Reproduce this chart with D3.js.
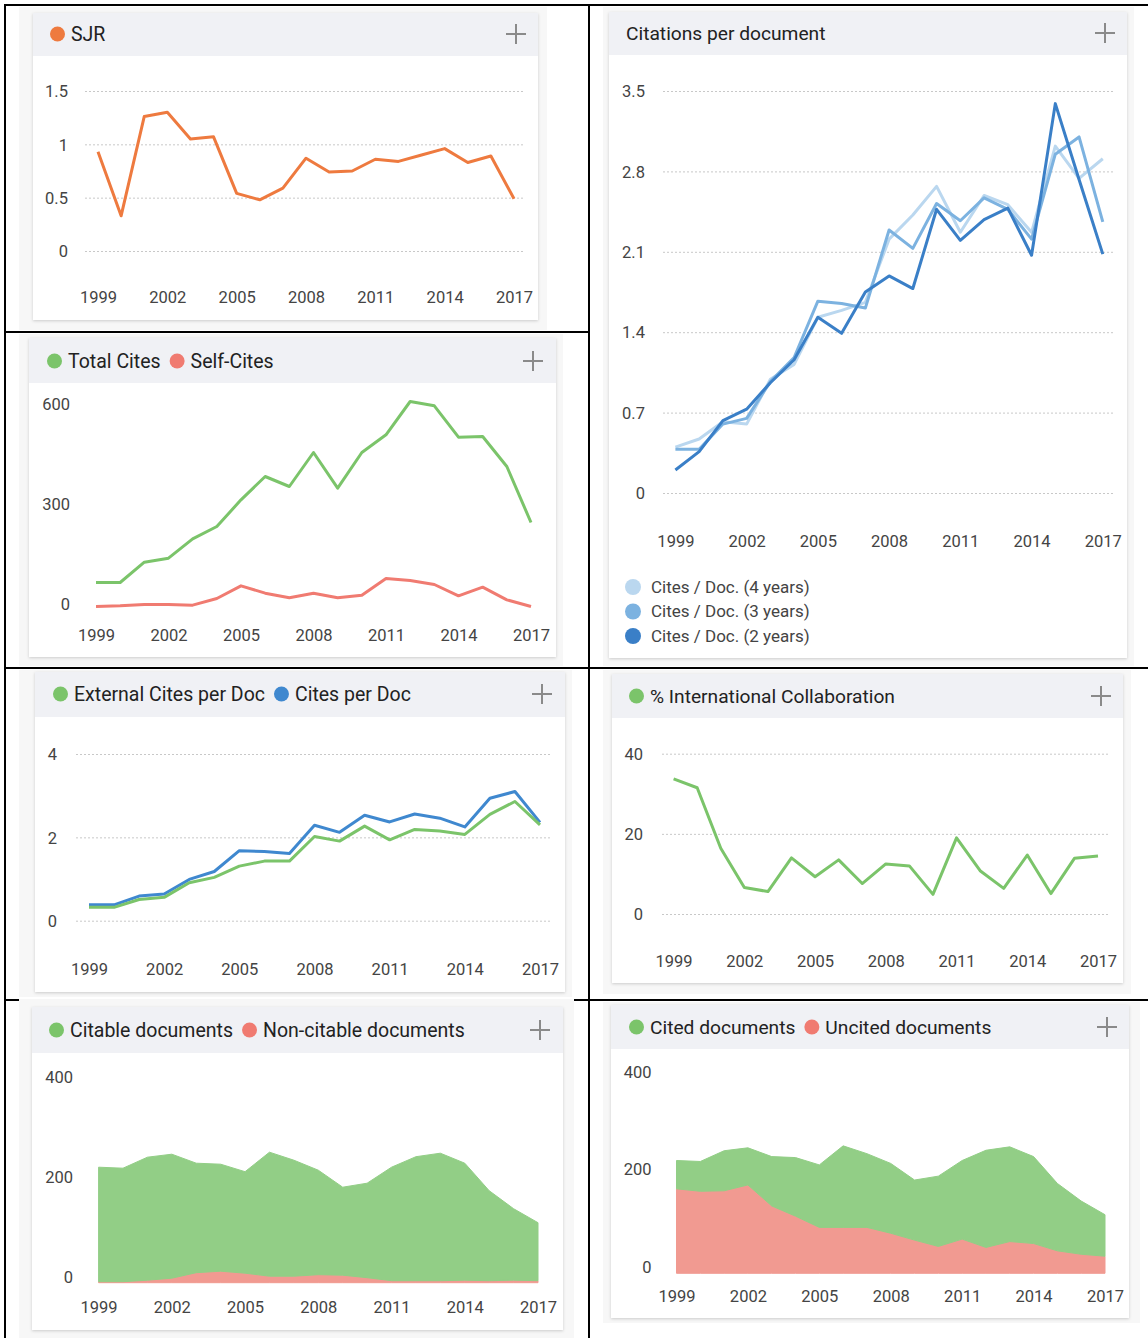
<!DOCTYPE html>
<html>
<head>
<meta charset="utf-8">
<script src="https://cdn.jsdelivr.net/npm/d3@7"></script>
<style>
  body { margin: 0; background: #fff; }
  svg { display: block; font-family: Roboto, 'Noto Sans', sans-serif; }
</style>
</head>
<body>
<div id="chart"></div>
<script>
const years = [1999, 2000, 2001, 2002, 2003, 2004, 2005, 2006, 2007, 2008, 2009, 2010, 2011, 2012, 2013, 2014, 2015, 2016, 2017];
const yearTicks = [1999, 2002, 2005, 2008, 2011, 2014, 2017];

const sjr = [0.93, 0.33, 1.26, 1.3, 1.05, 1.07, 0.54, 0.48, 0.59, 0.87, 0.74, 0.75, 0.86, 0.84, 0.9, 0.96, 0.83, 0.89, 0.49];
const sjrTicks = [0, 0.5, 1, 1.5];

const totalCites = [72, 72, 133, 145, 203, 240, 320, 390, 360, 462, 355, 462, 515, 615, 602, 508, 510, 420, 252];
const selfCites = [0, 2, 6, 6, 4, 24, 62, 40, 26, 40, 26, 34, 84, 78, 66, 32, 58, 20, 0];
const citesTicks = [0, 300, 600];

const citesDoc4 = [0.4, 0.47, 0.62, 0.6, 0.99, 1.12, 1.53, 1.59, 1.66, 2.21, 2.42, 2.67, 2.27, 2.59, 2.51, 2.27, 3.02, 2.74, 2.91];
const citesDoc3 = [0.38, 0.38, 0.6, 0.65, 0.97, 1.18, 1.67, 1.65, 1.61, 2.29, 2.13, 2.52, 2.37, 2.57, 2.47, 2.21, 2.95, 3.1, 2.36];
const citesDoc2 = [0.2, 0.36, 0.63, 0.73, 0.96, 1.16, 1.53, 1.39, 1.75, 1.89, 1.78, 2.47, 2.2, 2.38, 2.48, 2.07, 3.39, 2.73, 2.08];
const citesDocTicks = [0, 0.7, 1.4, 2.1, 2.8, 3.5];

const citesPerDoc = [0.38, 0.38, 0.59, 0.64, 0.99, 1.18, 1.68, 1.66, 1.61, 2.29, 2.12, 2.53, 2.37, 2.56, 2.46, 2.25, 2.94, 3.1, 2.36];
const externalCitesPerDoc = [0.32, 0.32, 0.51, 0.56, 0.91, 1.04, 1.31, 1.43, 1.43, 2.02, 1.91, 2.27, 1.94, 2.19, 2.15, 2.07, 2.55, 2.86, 2.3];
const perDocTicks = [0, 2, 4];

const intlCollab = [33.7, 31.5, 16.4, 6.6, 5.6, 14.0, 9.3, 13.5, 7.6, 12.5, 12.0, 4.9, 19.0, 10.8, 6.4, 14.7, 5.1, 13.9, 14.5];
const intlTicks = [0, 20, 40];

const citableDocs = [229, 227, 246, 248, 219, 214, 203, 248, 232, 209, 176, 189, 227, 248, 255, 234, 180, 143, 116];
const nonCitableDocs = [2, 2, 5, 9, 20, 23, 19, 13, 13, 16, 15, 10, 4, 4, 4, 5, 4, 5, 4];
const citedDocs = [58, 61, 82, 76, 101, 120, 128, 167, 151, 143, 123, 144, 161, 199, 194, 178, 138, 109, 85];
const uncitedDocs = [173, 168, 169, 181, 138, 117, 94, 94, 94, 82, 68, 55, 70, 53, 65, 61, 46, 39, 35];
const docTicks = [0, 200, 400];

const green = '#7bc46a';
const red = '#f07b71';
const orange = '#ee7a3f';
const blue = '#3f88cf';
const greenFill = '#92ce86';
const redFill = '#f19a91';

const W = 1148;
const H = 1338;

const svg = d3.select('#chart').append('svg').attr('width', W).attr('height', H);
svg.append('rect').attr('width', W).attr('height', H).attr('fill', '#fff');

const defs = svg.append('defs');
defs.append('filter').attr('id', 'shadow').attr('x', '-5%').attr('y', '-5%').attr('width', '110%').attr('height', '110%')
  .append('feDropShadow').attr('dx', 0).attr('dy', 1).attr('stdDeviation', 1.5)
  .attr('flood-color', '#000').attr('flood-opacity', 0.18);

// table borders
const borders = [
  [4, 5, W, 5], [5, 4, 5, H], [589, 4, 589, H],
  [5, 332, 589, 332], [5, 668, W, 668], [5, 1000, W, 1000]
];
svg.selectAll('line.border').data(borders).enter().append('line')
  .attr('x1', d => d[0]).attr('y1', d => d[1]).attr('x2', d => d[2]).attr('y2', d => d[3])
  .attr('stroke', '#000').attr('stroke-width', 2);

// light gray backgrounds of the pasted images
const cells = [
  [19, 7, 547, 330], [19, 334, 563, 666], [603, 7, 1134, 666],
  [19, 670, 572, 997], [603, 670, 1131, 994], [19, 999, 574, H], [603, 1002, 1140, 1323]
];
svg.selectAll('rect.cell').data(cells).enter().append('rect')
  .attr('x', d => d[0]).attr('y', d => d[1]).attr('width', d => d[2] - d[0]).attr('height', d => d[3] - d[1])
  .attr('fill', '#f7f7f7');

const panel = (cfg) => {
  const g = svg.append('g');
  const c = cfg.card;
  g.append('rect').attr('x', c.x).attr('y', c.y).attr('width', c.w).attr('height', c.h)
    .attr('fill', '#fff').attr('filter', 'url(#shadow)');
  g.append('rect').attr('x', c.x).attr('y', c.y).attr('width', c.w).attr('height', cfg.headerH)
    .attr('fill', '#f0f1f5');

  // header legend / title, items chained one after the other
  let cx = cfg.legendX;
  cfg.legend.forEach((l) => {
    let tx = cx;
    if (l.color) {
      g.append('circle').attr('cx', cx + 7.5).attr('cy', cfg.legendY).attr('r', 7.5).attr('fill', l.color);
      tx = cx + 21;
    }
    const t = g.append('text').attr('x', tx).attr('y', cfg.legendY).attr('dy', '0.36em')
      .attr('font-size', cfg.titleSize || 19.5).attr('fill', '#222').text(l.label);
    cx = tx + t.node().getComputedTextLength() + 9;
  });

  // plus icon
  g.append('path')
    .attr('d', `M${cfg.plusX - 10},${cfg.legendY}H${cfg.plusX + 10}M${cfg.plusX},${cfg.legendY - 10}V${cfg.legendY + 10}`)
    .attr('stroke', '#8a8a8a').attr('stroke-width', 2);

  const x = d3.scaleLinear().domain([1999, 2017]).range(cfg.xRange);
  const y = d3.scaleLinear().domain(cfg.yDomain).range(cfg.yRange);

  if (cfg.grid) {
    g.append('g').attr('transform', `translate(${cfg.grid[0]},0)`)
      .call(d3.axisRight(y).tickValues(cfg.yTicks).tickSize(cfg.grid[1] - cfg.grid[0]).tickFormat(''))
      .call((s) => s.select('.domain').remove())
      .call((s) => s.selectAll('line').attr('stroke', '#c8c8c8').attr('stroke-dasharray', '2,2'));
  }

  const yAxis = g.append('g').attr('transform', `translate(${cfg.labelX},0)`)
    .call(d3.axisLeft(y).tickValues(cfg.yTicks).tickSize(0).tickPadding(0).tickFormat((d) => String(d)));
  yAxis.select('.domain').remove();
  yAxis.selectAll('text').attr('y', cfg.labelDy || 0).attr('dy', '0.35em')
    .attr('font-size', 16.5).attr('fill', '#444').attr('font-family', 'Roboto');

  const xAxis = g.append('g').attr('transform', `translate(0,${cfg.yearY})`)
    .call(d3.axisBottom(x).tickValues(yearTicks).tickSize(0).tickPadding(0).tickFormat(d3.format('d')));
  xAxis.select('.domain').remove();
  xAxis.selectAll('text').attr('dy', '0.35em')
    .attr('font-size', 16.5).attr('fill', '#444').attr('font-family', 'Roboto');

  if (cfg.lines) {
    const line = d3.line().x((d, i) => x(years[i])).y((d) => y(d));
    cfg.lines.forEach((s) => {
      g.append('path').datum(s.values).attr('d', line).attr('fill', 'none')
        .attr('stroke', s.color).attr('stroke-width', 3).attr('stroke-linejoin', 'round');
    });
  }

  if (cfg.areas) {
    const table = years.map((yr, i) => {
      const row = { year: yr };
      cfg.areas.forEach((a) => { row[a.key] = a.values[i]; });
      return row;
    });
    const stack = d3.stack().keys(cfg.areas.map((a) => a.key))(table);
    const area = d3.area().x((d) => x(d.data.year)).y0((d) => y(d[0])).y1((d) => y(d[1]));
    stack.forEach((layer, i) => {
      g.append('path').datum(layer).attr('d', area)
        .attr('fill', cfg.areas[i].fill).attr('stroke', cfg.areas[i].fill).attr('stroke-width', 1);
    });
  }
  return g;
};

// SJR
panel({
  card: { x: 33, y: 13, w: 505, h: 307 }, headerH: 43, legendY: 34, plusX: 516, legendX: 50,
  legend: [{ label: 'SJR', color: orange }],
  yDomain: [0, 1.5], yRange: [251, 91], yTicks: sjrTicks, labelX: 68, grid: [85, 524],
  xRange: [98, 514], yearY: 297,
  lines: [{ values: sjr, color: orange }]
});

// Total Cites / Self-Cites
panel({
  card: { x: 29, y: 338, w: 527, h: 319 }, headerH: 45, legendY: 361, plusX: 533, legendX: 47,
  legend: [{ label: 'Total Cites', color: green }, { label: 'Self-Cites', color: red }],
  yDomain: [0, 600], yRange: [606.5, 406.5], yTicks: citesTicks, labelX: 70, labelDy: -2.5,
  xRange: [96, 531], yearY: 635,
  lines: [{ values: totalCites, color: green }, { values: selfCites, color: red }]
});

// Citations per document
const cpd = panel({
  card: { x: 609, y: 12, w: 518, h: 646 }, headerH: 43, legendY: 33, plusX: 1105, legendX: 626,
  titleSize: 19.2,
  legend: [{ label: 'Citations per document' }],
  yDomain: [0, 3.5], yRange: [493, 91], yTicks: citesDocTicks, labelX: 645, grid: [663, 1114],
  xRange: [675.4, 1102.8], yearY: 541,
  lines: [
    { values: citesDoc4, color: '#bad7ef' },
    { values: citesDoc3, color: '#7cb2e0' },
    { values: citesDoc2, color: '#3a7fc7' }
  ]
});
const cpdLegend = [
  { label: 'Cites / Doc. (4 years)', color: '#bad7ef' },
  { label: 'Cites / Doc. (3 years)', color: '#7cb2e0' },
  { label: 'Cites / Doc. (2 years)', color: '#3a7fc7' }
];
cpdLegend.forEach((l, i) => {
  cpd.append('circle').attr('cx', 633).attr('cy', 587 + i * 24.5).attr('r', 8).attr('fill', l.color);
  cpd.append('text').attr('x', 651).attr('y', 587 + i * 24.5).attr('dy', '0.35em')
    .attr('font-size', 17).attr('fill', '#444').text(l.label);
});

// External Cites per Doc / Cites per Doc
panel({
  card: { x: 35, y: 672, w: 530, h: 320 }, headerH: 45, legendY: 694, plusX: 542, legendX: 53,
  legend: [{ label: 'External Cites per Doc', color: green }, { label: 'Cites per Doc', color: blue }],
  yDomain: [0, 4], yRange: [920.7, 754], yTicks: perDocTicks, labelX: 57, grid: [76, 552],
  xRange: [89, 540], yearY: 969,
  lines: [{ values: citesPerDoc, color: blue }, { values: externalCitesPerDoc, color: green }]
});

// % International Collaboration
panel({
  card: { x: 612, y: 674, w: 511, h: 309 }, headerH: 44, legendY: 696, plusX: 1101, legendX: 629,
  titleSize: 19.2,
  legend: [{ label: '% International Collaboration', color: green }],
  yDomain: [0, 40], yRange: [914, 753.7], yTicks: intlTicks, labelX: 643, grid: [662, 1110],
  xRange: [673.6, 1098], yearY: 961.7,
  lines: [{ values: intlCollab, color: green }]
});

// Citable / Non-citable documents
panel({
  card: { x: 32, y: 1007, w: 531, h: 323 }, headerH: 46, legendY: 1030, plusX: 540, legendX: 49,
  legend: [{ label: 'Citable documents', color: green }, { label: 'Non-citable documents', color: red }],
  yDomain: [0, 400], yRange: [1282.7, 1082.7], yTicks: docTicks, labelX: 73, labelDy: -6,
  xRange: [98.6, 538], yearY: 1307,
  areas: [
    { key: 'nonCitable', values: nonCitableDocs, fill: redFill },
    { key: 'citable', values: citableDocs, fill: greenFill }
  ]
});

// Cited / Uncited documents
panel({
  card: { x: 611, y: 1005, w: 518, h: 313 }, headerH: 44, legendY: 1027, plusX: 1107, legendX: 629,
  titleSize: 19.2,
  legend: [{ label: 'Cited documents', color: green }, { label: 'Uncited documents', color: red }],
  yDomain: [0, 400], yRange: [1273.3, 1078], yTicks: docTicks, labelX: 651.6, labelDy: -6.6,
  xRange: [676.5, 1105], yearY: 1296.7,
  areas: [
    { key: 'uncited', values: uncitedDocs, fill: redFill },
    { key: 'cited', values: citedDocs, fill: greenFill }
  ]
});
</script>
</body>
</html>
